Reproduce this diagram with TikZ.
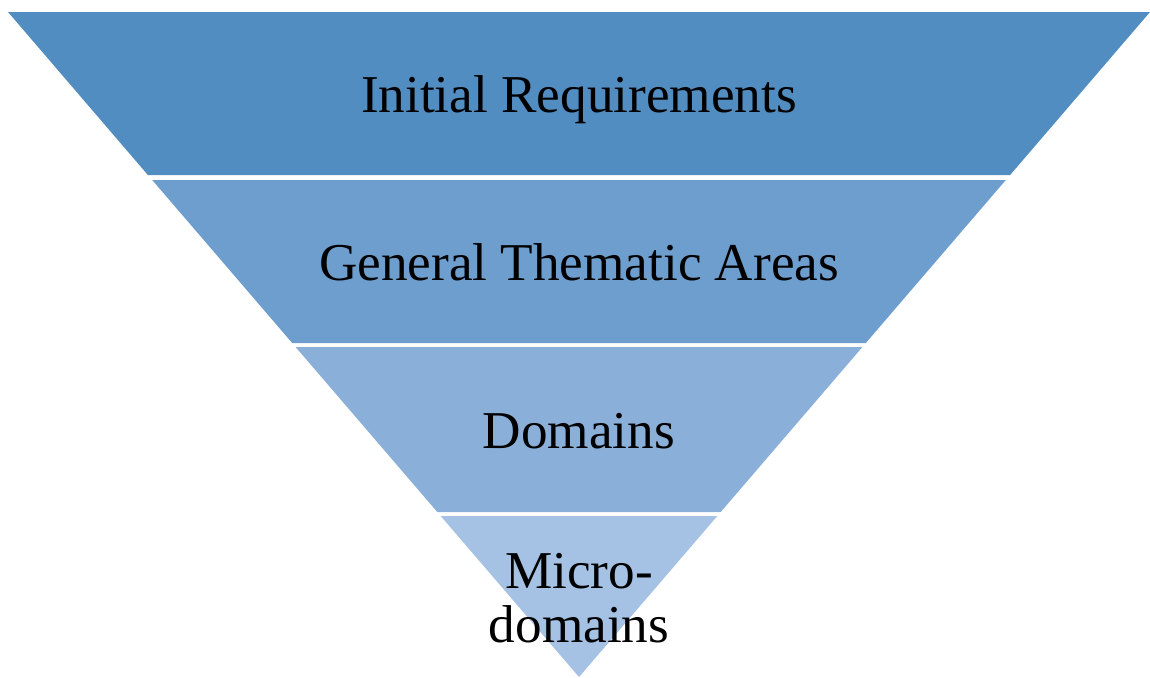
\documentclass[tikz,border=0pt]{standalone}
\usepackage{fontspec}
\setmainfont{Liberation Serif}
\usepackage{tikz}

\definecolor{bandA}{HTML}{528DC2}
\definecolor{bandB}{HTML}{6E9ECE}
\definecolor{bandC}{HTML}{8AAFD9}
\definecolor{bandD}{HTML}{A5C2E4}

\begin{document}
\begin{tikzpicture}[x={(0.5pt,0)},y={(0,-0.5pt)},
	label/.style={align=center,font=\fontsize{26.6}{27}\selectfont,inner sep=0pt}]
	\useasboundingbox (0,0) rectangle (1150,677);
	% funnel bands
	\fill[bandA] (8,12) -- (1150,12) -- (1010.1,175) -- (147.9,175) -- cycle;
	\fill[bandB] (152.2,180) -- (1005.8,180) -- (865.8,343) -- (292.2,343) -- cycle;
	\fill[bandC] (295.6,347) -- (862.4,347) -- (720.7,512) -- (437.3,512) -- cycle;
	\fill[bandD] (440.7,516) -- (717.3,516) -- (579,677) -- cycle;

	\node(req)[label,anchor=base] at (579,112){Initial Requirements};
	\node(areas)[label,anchor=base] at (579,280){General Thematic Areas};
	\node(dom)[label,anchor=base] at (579,448){Domains};
	\node(micro)[label] at (579,598){Micro-\\domains};
\end{tikzpicture}
\end{document}
